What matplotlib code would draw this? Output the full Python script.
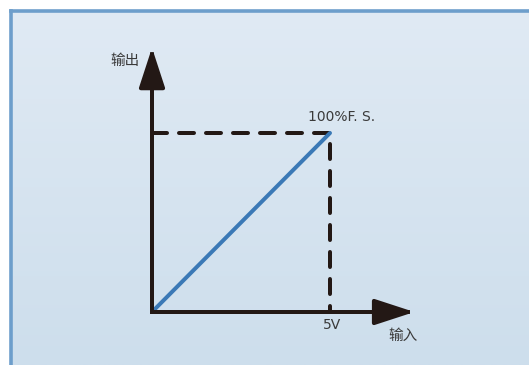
import numpy as np
import matplotlib
matplotlib.use("Agg")
import matplotlib.pyplot as plt
from matplotlib.patches import FancyArrowPatch, ArrowStyle

# --- data: linear transfer, 0..5 V in -> 0..100 %F.S. out ---
input_v = [0, 5]
output_pct = [0, 100]

x_label = "输入"
y_label = "输出"
x_full_label = "5V"
y_full_label = "100%F. S."

# axis arrow ends (in data units)
X_AXIS_END = 7.37
Y_AXIS_END = 147.6

INK = "#231815"
LINE_BLUE = "#3b79b6"
TEXT_COL = "#3a3a3a"
BORDER = "#6d9ecb"

W, H, DPI = 529, 365, 100
fig = plt.figure(figsize=(W / DPI, H / DPI), dpi=DPI)
fig.patch.set_facecolor("white")

# --- background panel with gradient ---
bg = fig.add_axes([10.7 / W, 0, 1 - 10.7 / W, (H - 10.7) / H])
grad = np.linspace(0, 1, 256).reshape(-1, 1)
top = np.array([0xe0, 0xea, 0xf4]) / 255
bot = np.array([0xcd, 0xde, 0xec]) / 255
img = top + (bot - top) * grad[:, :, None]
bg.imshow(img, aspect="auto", extent=[0, 1, 0, 1], origin="upper")
bg.set_xticks([])
bg.set_yticks([])
for side in ("right", "bottom"):
    bg.spines[side].set_visible(False)
for side in ("left", "top"):
    bg.spines[side].set_color(BORDER)
    bg.spines[side].set_linewidth(2.6)

# --- chart axes: data box 0..5 x 0..100 mapped onto the drawing ---
ax = fig.add_axes([152 / W, 53 / H, 178 / W, 179 / H])
ax.set_xlim(input_v[0], input_v[-1])
ax.set_ylim(output_pct[0], output_pct[-1])
ax.axis("off")
ax.patch.set_alpha(0)

lw = 2.88

# dashed full-scale guides
ax.plot([input_v[0], input_v[-1], input_v[-1]],
        [output_pct[-1], output_pct[-1], output_pct[0]],
        color=INK, lw=lw, dashes=(3.75, 3.0), dash_capstyle="round",
        clip_on=False, zorder=2)

# transfer line
ax.plot(input_v, output_pct, color=LINE_BLUE, lw=lw, solid_capstyle="round",
        clip_on=False, zorder=3)

# axis arrows
style = ArrowStyle("-|>", head_length=24.5, head_width=8.0)
for end in [(X_AXIS_END, output_pct[0]), (input_v[0], Y_AXIS_END)]:
    arr = FancyArrowPatch((input_v[0], output_pct[0]), end, arrowstyle=style,
                          mutation_scale=1, lw=lw, color=INK,
                          shrinkA=0, shrinkB=0, clip_on=False, zorder=4)
    arr.set_capstyle("projecting")
    ax.add_patch(arr)

cjk = ["Noto Sans CJK SC", "DejaVu Sans"]
ax.text(-0.34, 140.2, y_label, ha="right", va="center", fontsize=10.5,
        family=cjk, color=TEXT_COL)
ax.text(7.05, -13.4, x_label, ha="center", va="center", fontsize=10.5,
        family=cjk, color=TEXT_COL)
ax.text(5.06, -7.3, x_full_label, ha="center", va="center", fontsize=10,
        color=TEXT_COL)
ax.text(4.38, 108.9, y_full_label, ha="left", va="center", fontsize=10,
        color=TEXT_COL)

fig.savefig("out.png", dpi=DPI)
